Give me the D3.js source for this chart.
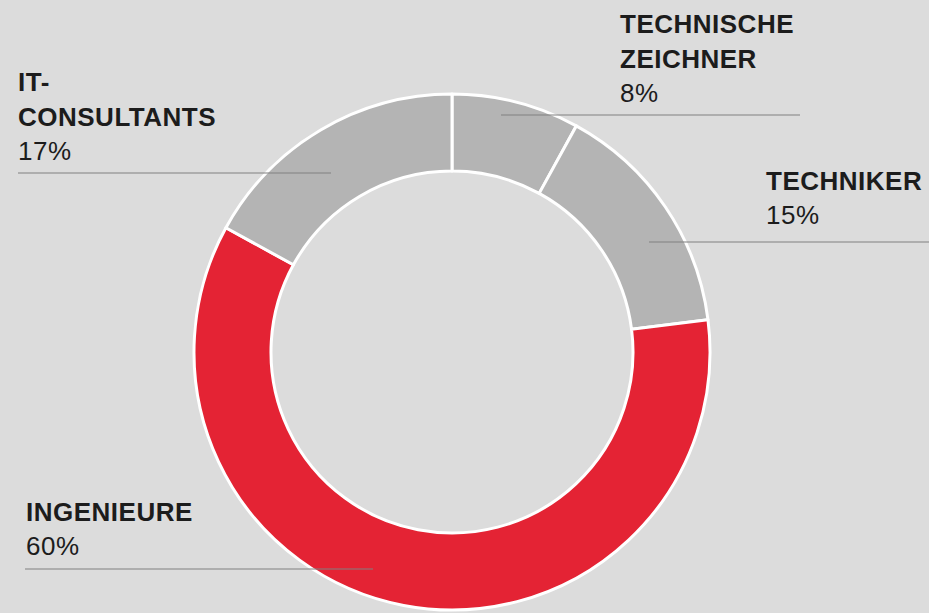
<!DOCTYPE html>
<html><head><meta charset="utf-8">
<script src="https://cdn.jsdelivr.net/npm/d3@7"></script>
<style>
html,body{margin:0;padding:0;background:#dcdcdc;}
svg{display:block;}
</style></head>
<body>
<svg id="chart" width="929" height="613"></svg>
<script>
const categories = ["TECHNISCHE ZEICHNER", "TECHNIKER", "INGENIEURE", "IT-CONSULTANTS"];
const labelLines = [["TECHNISCHE", "ZEICHNER"], ["TECHNIKER"], ["INGENIEURE"], ["IT-", "CONSULTANTS"]];
const values = [8, 15, 60, 17];
const colors = ["#b4b4b4", "#b4b4b4", "#e42334", "#b4b4b4"];

// layout (positions only)
const cx = 452, cy = 352, rOuter = 258, rInner = 181;
const labelLayout = [
  {x: 620, y: 33, lineY: 115, x1: 501, x2: 800},
  {x: 766, y: 190, lineY: 242, x1: 649, x2: 929},
  {x: 26, y: 521, lineY: 569, x1: 25, x2: 373},
  {x: 18, y: 91, lineY: 173, x1: 18, x2: 331}
];

const svg = d3.select("#chart");
const g = svg.append("g").attr("transform", `translate(${cx},${cy})`);
const pie = d3.pie().sort(null).value(d => d)(values);
const arc = d3.arc().innerRadius(rInner).outerRadius(rOuter);

g.selectAll("path").data(pie).join("path")
  .attr("d", arc)
  .attr("fill", (d, i) => colors[i])
  .attr("stroke", "#ffffff")
  .attr("stroke-width", 3)
  .attr("stroke-linejoin", "round");

const lineH = 35;
categories.forEach((c, i) => {
  const L = labelLayout[i];
  const t = svg.append("text")
    .attr("x", L.x).attr("y", L.y)
    .attr("font-family", "Liberation Sans, Arial, sans-serif")
    .attr("font-size", 26)
    .attr("fill", "#1c1c1c");
  labelLines[i].forEach((ln, j) => {
    t.append("tspan").attr("x", L.x).attr("y", L.y + j * lineH)
      .attr("font-weight", "bold").attr("letter-spacing", 0.5).text(ln);
  });
  t.append("tspan").attr("x", L.x).attr("y", L.y + labelLines[i].length * lineH - 1)
    .attr("font-weight", "normal").attr("letter-spacing", 0.5).text(values[i] + "%");
  svg.append("line")
    .attr("x1", L.x1).attr("x2", L.x2)
    .attr("y1", L.lineY).attr("y2", L.lineY)
    .attr("stroke", "#808080").attr("stroke-width", 1.2);
});
</script>
</body></html>
